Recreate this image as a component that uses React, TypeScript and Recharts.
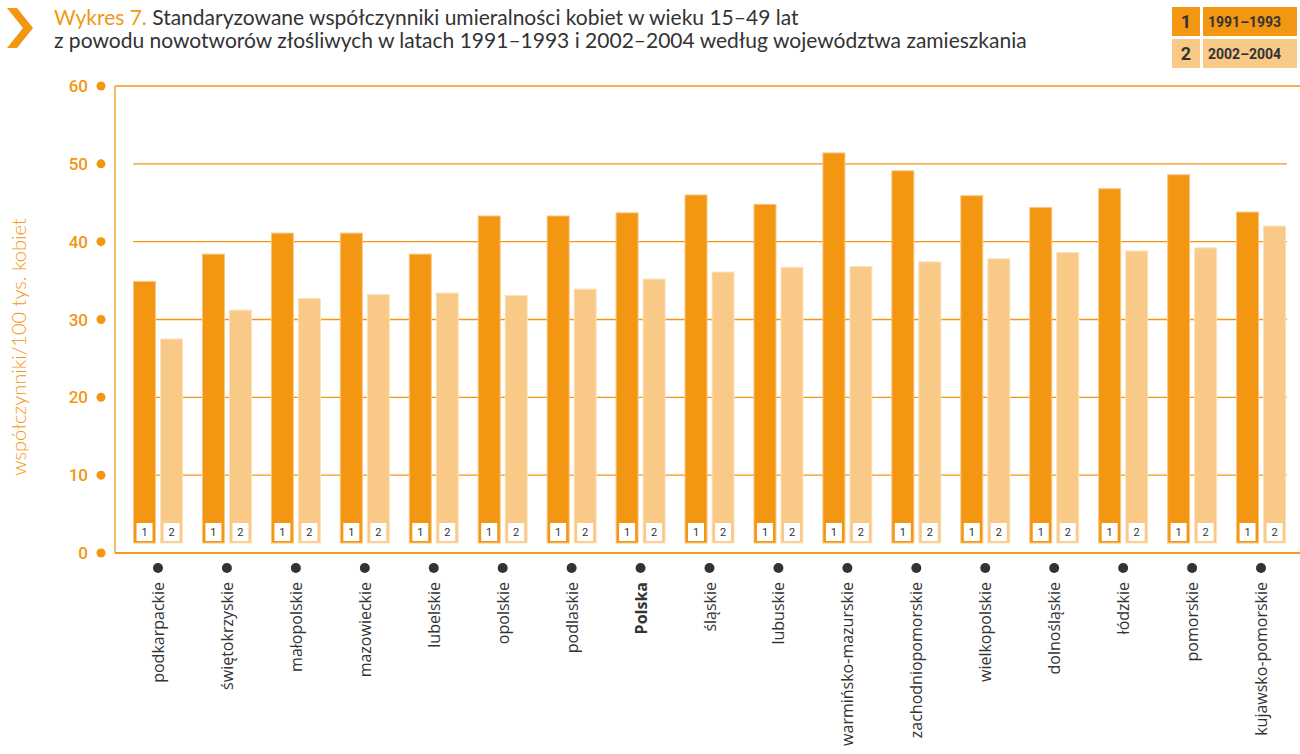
import React from 'react'
import { BarChart, Bar, XAxis, YAxis, CartesianGrid } from 'recharts'

const ORANGE = '#f39612'
const LIGHT = '#f8c987'
const TEXT = '#333333'

const categories = [
  'podkarpackie',
  'świętokrzyskie',
  'małopolskie',
  'mazowieckie',
  'lubelskie',
  'opolskie',
  'podlaskie',
  'Polska',
  'śląskie',
  'lubuskie',
  'warmińsko-mazurskie',
  'zachodniopomorskie',
  'wielkopolskie',
  'dolnośląskie',
  'łódzkie',
  'pomorskie',
  'kujawsko-pomorskie',
]
const rates1991 = [34.9, 38.4, 41.1, 41.1, 38.4, 43.3, 43.3, 43.7, 46.0, 44.8, 51.4, 49.1, 45.9, 44.4, 46.8, 48.6, 43.8]
const rates2002 = [27.5, 31.2, 32.7, 33.2, 33.4, 33.1, 33.9, 35.2, 36.1, 36.7, 36.8, 37.4, 37.8, 38.6, 38.8, 39.2, 42.0]
const yTicks = [0, 10, 20, 30, 40, 50, 60]
const periods = ['1991–1993', '2002–2004']

const data = categories.map((name, i) => ({ name, p1: rates1991[i], p2: rates2002[i] }))

// bar that stops short of the axis and carries a small numbered tag at its foot
function TaggedBar(props: any) {
  const { x, y, width, height, fill, tag, edge } = props
  const bottom = y + height - 10
  const h = Math.max(bottom - y, 0)
  return (
    <g>
      <rect x={x} y={y} width={width} height={h} fill={fill} stroke={edge} strokeWidth={1} />
      <rect x={x + 3} y={bottom - 20} width={width - 6} height={18} fill="#fff" />
      <text
        x={x + width / 2}
        y={bottom - 7}
        textAnchor="middle"
        fontSize={11}
        fontFamily="Roboto, sans-serif"
        fill={TEXT}
      >
        {tag}
      </text>
    </g>
  )
}

function YTick(props: any) {
  const { x, y, payload } = props
  return (
    <g>
      <text
        x={x - 27}
        y={y + 6}
        textAnchor="end"
        fontSize={17}
        fontWeight={500}
        fontFamily="Roboto, sans-serif"
        fill={ORANGE}
      >
        {payload.value}
      </text>
      <circle cx={x - 14} cy={y} r={4.5} fill={ORANGE} />
    </g>
  )
}

function XTick(props: any) {
  const { x, y, payload } = props
  const bold = payload.value === 'Polska'
  return (
    <g>
      <circle cx={x} cy={y + 15} r={5} fill={TEXT} />
      <text
        transform={`translate(${x + 6},${y + 29}) rotate(-90)`}
        textAnchor="end"
        fontSize={16}
        fontWeight={bold ? 700 : 400}
        fontFamily="'Open Sans', sans-serif"
        fill={TEXT}
      >
        {payload.value}
      </text>
    </g>
  )
}

// inner gridlines are shorter than the frame lines at 0 and 60
function GridLine(props: any) {
  const { x1, x2, y1, y2, index } = props
  const frame = y1 < 90 || y1 > 550
  return (
    <line
      key={`g-${index}`}
      x1={frame ? x1 : x1 + 18}
      x2={frame ? x2 : x2 - 13}
      y1={y1}
      y2={y2}
      stroke={ORANGE}
      strokeWidth={1.3}
    />
  )
}

export default function App() {
  return (
    <div style={{ position: 'absolute', left: 0, top: 0, width: 1300, height: 754, background: '#fff' }}>
      <BarChart
        width={1300}
        height={754}
        data={data}
        margin={{ top: 86, right: 0, bottom: 0, left: 15 }}
        barSize={22}
        barGap={5}
      >
        <CartesianGrid vertical={false} horizontal={GridLine} />
        <XAxis
          dataKey="name"
          height={201}
          padding={{ left: 8.5, right: 4.5 }}
          axisLine={{ stroke: ORANGE, strokeWidth: 1.3 }}
          tickLine={false}
          tickSize={0}
          tickMargin={0}
          interval={0}
          tick={<XTick />}
        />
        <YAxis
          width={100}
          domain={[0, 60]}
          ticks={yTicks}
          axisLine={{ stroke: ORANGE, strokeWidth: 1.3 }}
          tickLine={false}
          tickSize={0}
          tickMargin={0}
          tick={<YTick />}
        />
        <Bar
          dataKey="p1"
          fill={ORANGE}
          isAnimationActive={false}
          shape={(p: any) => <TaggedBar {...p} tag="1" edge="#f7c783" />}
        />
        <Bar
          dataKey="p2"
          fill={LIGHT}
          isAnimationActive={false}
          shape={(p: any) => <TaggedBar {...p} tag="2" edge="#fbe2bd" />}
        />
      </BarChart>

      <svg width={1300} height={754} style={{ position: 'absolute', left: 0, top: 0, pointerEvents: 'none' }}>
        <polygon points="7,8 17,8 33,28 17,48 7,48 23,28" fill={ORANGE} />
        <text x={54} y={25} fontSize={21} fontFamily="Lato, sans-serif" fill={TEXT}>
          <tspan fill={ORANGE}>Wykres 7.</tspan> Standaryzowane współczynniki umieralności kobiet w wieku 15–49 lat
        </text>
        <text x={54} y={48} fontSize={21} fontFamily="Lato, sans-serif" fill={TEXT}>
          z powodu nowotworów złośliwych w latach 1991–1993 i 2002–2004 według województwa zamieszkania
        </text>
        <text
          transform="translate(26,347) rotate(-90)"
          textAnchor="middle"
          fontSize={20}
          fontWeight={300}
          fontFamily="Lato, sans-serif"
          fill={ORANGE}
        >
          współczynniki/100 tys. kobiet
        </text>
        {periods.map((label, i) => (
          <g key={label}>
            <rect x={1172} y={7 + i * 32} width={28} height={29} fill={i === 0 ? ORANGE : LIGHT} />
            <text x={1186} y={28 + i * 32} textAnchor="middle" fontSize={18} fontWeight={700} fontFamily="Roboto, sans-serif" fill={TEXT}>
              {i + 1}
            </text>
            <rect x={1203} y={7 + i * 32} width={94} height={29} fill={i === 0 ? ORANGE : LIGHT} />
            <text x={1208} y={27 + i * 32} fontSize={14} fontWeight={700} fontFamily="Roboto, sans-serif" fill={TEXT}>
              {label}
            </text>
          </g>
        ))}
      </svg>
    </div>
  )
}
